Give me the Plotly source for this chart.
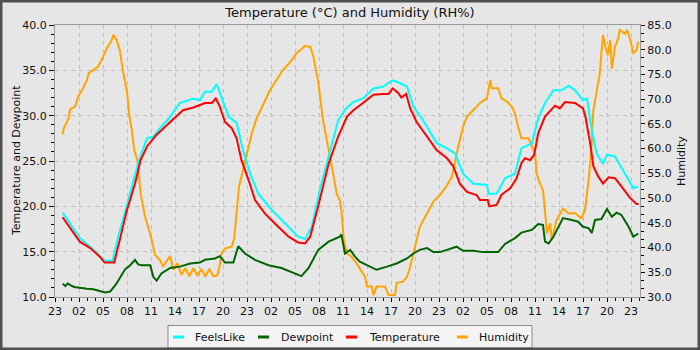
import pandas as pd
import plotly.graph_objects as go

# ---------------- data (hours after the first 23:00 tick) ----------------
start_time = "2024-06-01 23:00"

temp_hours = [0.95, 1.9, 3.1, 4.4, 5.6, 6.2, 7.4, 8.1, 9.0, 10.0, 10.7, 11.5, 12.7, 14.4, 16.0, 17.3,
              18.75, 19.6, 20.1, 20.6, 21.25, 22.1, 22.7, 23.3, 24.2, 25.0, 26.25, 27.9, 29.2, 30.4,
              31.25, 31.9, 32.9, 34.2, 35.4, 36.5, 37.3, 38.5, 39.8, 41.0, 41.7, 42.2, 42.9, 43.3,
              43.9, 44.4, 45.2, 46.5, 47.7, 49.0, 49.8, 50.6, 51.5, 52.7, 53.1, 54.1, 54.3, 55.2,
              55.8, 56.9, 57.7, 58.3, 58.75, 59.4, 59.9, 60.4, 61.25, 62.5, 63.1, 63.75, 65.0, 66.0,
              66.3, 66.9, 67.3, 67.9, 68.5, 69.2, 70.0, 70.8, 71.9, 72.7, 72.95]
temp_values = [18.8, 17.6, 16.1, 15.4, 14.45, 13.8, 13.8, 16.3, 19.6, 22.5, 25.1, 26.6, 27.9, 29.3, 30.6, 30.9,
               31.4, 31.4, 31.9, 31.0, 29.3, 28.6, 27.5, 25.1, 22.9, 20.7, 19.2, 17.75, 16.65, 16.0,
               15.9, 16.65, 20.0, 24.7, 27.7, 29.9, 30.6, 31.4, 32.3, 32.4, 32.4, 33.0, 32.5, 32.0,
               32.4, 30.8, 29.3, 27.7, 26.2, 25.3, 24.4, 22.5, 21.6, 21.25, 20.7, 20.7, 20.0, 20.15,
               21.25, 22.0, 23.1, 24.75, 25.3, 25.1, 25.7, 28.05, 29.9, 31.1, 30.8, 31.5, 31.4, 30.8,
               29.9, 26.95, 24.4, 23.3, 22.5, 23.2, 23.1, 22.2, 20.9, 20.25, 20.25]

feels_hours = [0.96, 1.9, 3.1, 4.8, 6.2, 7.2, 7.9, 9.0, 10.0, 10.8, 11.5, 12.3, 13.1, 14.4, 15.6, 17.3,
               18.1, 18.75, 19.6, 20.2, 20.8, 21.7, 22.7, 23.5, 24.4, 25.4, 27.1, 28.75, 30.4, 31.25,
               32.1, 33.1, 34.2, 35.4, 36.2, 36.5, 37.3, 38.5, 39.8, 41.0, 42.2, 43.1, 44.0, 44.8,
               46.0, 47.7, 49.0, 50.0, 51.0, 52.3, 54.0, 54.2, 55.2, 56.25, 57.5, 58.3, 59.6, 60.4,
               61.25, 62.3, 63.3, 64.2, 65.0, 66.0, 66.5, 67.1, 67.7, 68.5, 69.0, 70.0, 71.25, 72.3, 72.9]
feels_values = [19.3, 18.05, 16.5, 15.2, 14.0, 14.0, 16.65, 20.15, 23.5, 25.85, 27.5, 27.7, 28.6, 29.9, 31.4, 31.9,
                31.7, 32.65, 32.65, 33.5, 32.1, 29.9, 29.2, 26.2, 23.6, 21.4, 19.6, 18.1, 16.65, 16.4,
                17.75, 21.8, 25.5, 29.5, 30.6, 30.9, 31.5, 31.9, 33.0, 33.2, 33.9, 33.6, 33.2, 31.0,
                29.5, 27.0, 26.4, 25.85, 23.6, 22.5, 22.35, 21.4, 21.4, 23.1, 23.6, 26.4, 26.95, 29.7,
                31.4, 32.8, 32.8, 33.3, 32.8, 31.7, 31.9, 28.4, 25.85, 24.7, 25.7, 25.5, 23.6, 22.0, 22.2]

dew_hours = [0.96, 1.3, 1.6, 1.9, 2.4, 3.1, 4.0, 4.8, 5.6, 6.25, 6.9, 7.7, 8.75, 9.4, 10.0, 10.4, 10.8,
             11.9, 12.3, 12.7, 13.3, 14.4, 15.6, 16.9, 18.1, 18.75, 20.0, 20.6, 21.25, 22.3, 22.9,
             23.75, 25.0, 26.7, 28.3, 30.0, 30.8, 31.7, 32.9, 34.2, 35.6, 35.8, 36.25, 36.9, 37.5,
             38.1, 39.4, 40.2, 41.5, 42.7, 44.0, 44.8, 45.6, 46.5, 47.3, 48.1, 49.0, 50.2, 51.0,
             52.3, 53.5, 55.4, 56.25, 57.5, 58.3, 59.6, 60.4, 61.0, 61.25, 61.7, 62.3, 62.9, 63.5,
             64.6, 65.4, 66.0, 66.7, 67.1, 67.5, 68.3, 69.0, 69.6, 70.2, 70.8, 71.7, 72.3, 72.9]
dew_values = [11.45, 11.2, 11.5, 11.3, 11.1, 11.0, 10.9, 10.85, 10.7, 10.5, 10.6, 11.5, 13.05, 13.5, 14.1, 13.6, 13.5,
              13.5, 12.2, 11.8, 12.6, 13.2, 13.35, 13.7, 13.8, 14.1, 14.25, 14.5, 13.8, 13.8, 15.6,
              14.8, 14.1, 13.5, 13.2, 12.55, 12.3, 13.2, 15.2, 16.1, 16.65, 16.9, 14.8, 15.2, 14.45,
              13.9, 13.35, 13.0, 13.35, 13.7, 14.25, 14.8, 15.2, 15.4, 14.95, 14.95, 15.2, 15.55, 15.1,
              15.1, 14.95, 14.95, 15.85, 16.5, 17.1, 17.4, 18.05, 17.95, 16.1, 15.9, 16.65, 17.75, 18.7,
              18.5, 18.3, 17.75, 17.6, 17.05, 18.5, 18.6, 19.7, 18.85, 19.3, 19.05, 17.75, 16.65, 17.0]

hum_hours = [0.96, 1.1, 1.7, 1.9, 2.5, 2.9, 3.5, 4.0, 4.2, 4.8, 5.4, 5.8, 6.5, 7.1, 7.3, 7.7, 8.1, 8.5,
             9.0, 9.3, 9.6, 9.9, 10.3, 10.7, 11.25, 11.7, 12.1, 12.5, 13.1, 13.5, 14.0, 14.4, 14.8,
             15.3, 15.8, 16.3, 16.8, 17.3, 17.8, 18.3, 18.8, 19.3, 19.8, 20.3, 20.6, 20.8, 21.25,
             22.1, 22.4, 22.7, 23.0, 23.5, 24.2, 24.6, 25.2, 25.8, 26.9, 27.7, 28.5, 29.6, 30.2,
             31.25, 31.9, 32.3, 32.9, 33.5, 34.0, 34.6, 35.2, 35.6, 35.8, 36.1, 36.5, 37.1, 37.7,
             38.3, 38.75, 39.0, 39.6, 39.8, 40.2, 41.25, 41.7, 42.5, 42.7, 43.5, 44.0, 44.4, 45.0,
             45.6, 46.5, 47.3, 48.1, 49.0, 49.6, 50.0, 50.4, 51.0, 51.5, 52.3, 53.1, 54.0, 54.2,
             54.4, 54.6, 55.4, 55.8, 56.5, 57.1, 57.5, 57.9, 58.3, 59.2, 59.6, 60.0, 60.2, 60.6,
             61.0, 61.25, 61.5, 61.9, 62.1, 62.7, 63.5, 64.2, 65.0, 65.8, 66.25, 66.7, 67.0, 67.3,
             67.7, 68.1, 68.3, 68.5, 68.8, 69.1, 69.4, 69.6, 70.0, 70.4, 70.6, 71.25, 71.5, 71.9,
             72.3, 72.7, 72.9]
hum_values = [62.9, 64.1, 66.1, 68.0, 68.5, 70.5, 72.2, 73.9, 75.2, 75.9, 76.6, 77.9, 80.3, 82.0, 83.0, 82.0, 79.9, 75.6,
              71.5, 66.5, 63.8, 59.7, 57.7, 51.0, 46.2, 43.9, 41.5, 38.5, 37.5, 36.2, 37.5, 38.3, 35.5,
              36.8, 34.5, 35.8, 34.2, 35.8, 34.4, 35.6, 34.2, 35.6, 34.2, 34.4, 36.5, 38.8, 39.8,
              40.2, 41.9, 47.6, 52.3, 55.7, 60.4, 63.1, 66.1, 68.2, 71.9, 73.9, 75.9, 77.9, 79.3,
              80.75, 80.6, 78.6, 73.5, 65.8, 61.7, 56.4, 51.0, 49.5, 47.6, 41.5, 38.8, 38.1, 36.8,
              35.4, 34.1, 32.1, 32.1, 30.4, 32.1, 32.1, 30.4, 30.4, 32.8, 33.1, 34.1, 36.1, 40.2,
              44.2, 46.9, 49.3, 50.6, 52.6, 54.3, 57.7, 60.4, 64.4, 66.5, 67.8, 69.2, 70.2, 72.5,
              73.9, 72.2, 72.2, 70.2, 69.5, 68.5, 67.1, 64.4, 62.1, 62.1, 60.7, 59.0, 55.0, 53.0,
              51.6, 46.9, 42.9, 44.9, 41.5, 45.6, 47.9, 46.9, 47.0, 45.9, 47.6, 53.6, 59.0, 67.8,
              71.2, 75.2, 79.3, 83.0, 80.6, 78.9, 82.0, 76.2, 80.6, 82.3, 84.0, 83.2, 84.0, 82.0,
              79.3, 79.9, 81.6]

series_names = ["FeelsLike", "Dewpoint", "Temperature", "Humidity"]
series_colors = ["#00ffff", "#006400", "#ff0000", "#ffa500"]

title_text = "Temperature (°C) and Humidity (RH%)"
left_title = "Temperature and Dewpoint"
right_title = "Humidity"

# ---------------- build figure ----------------
base = pd.Timestamp(start_time)


def to_time(hours):
    return base + pd.to_timedelta(pd.Series(hours, dtype=float), unit="h")


FONT = "DejaVu Sans"
BG = "#e6e6e6"
TXT = "#111111"

fig = go.Figure()

# Humidity on primary (right) axis -> drawn underneath
fig.add_trace(go.Scatter(x=to_time(hum_hours), y=hum_values, mode="lines", yaxis="y",
                         line=dict(color=series_colors[3], width=2), name=series_names[3]))
fig.add_trace(go.Scatter(x=to_time(feels_hours), y=feels_values, mode="lines", yaxis="y2",
                         line=dict(color=series_colors[0], width=2), name=series_names[0]))
fig.add_trace(go.Scatter(x=to_time(temp_hours), y=temp_values, mode="lines", yaxis="y2",
                         line=dict(color=series_colors[2], width=2), name=series_names[2]))
fig.add_trace(go.Scatter(x=to_time(dew_hours), y=dew_values, mode="lines", yaxis="y2",
                         line=dict(color=series_colors[1], width=2), name=series_names[1]))

x_end = base + pd.Timedelta(hours=73.125)

L, R, T, B = 55, 60, 25, 53
PW, PH = 700 - L - R, 350 - T - B


def px(xp):
    return (xp - L) / PW


def py(yp):
    return (350 - B - yp) / PH


# ---- hand-built legend box (positions in pixels) ----
legend_box = (168, 532, 325.5, 348)
legend_line_x = [173, 258, 346, 457]
legend_text_x = [193, 279, 367, 477]
legend_y = 337

shapes = [
    dict(type="rect", xref="paper", yref="paper", x0=px(legend_box[0]), x1=px(legend_box[1]),
         y0=py(legend_box[3]), y1=py(legend_box[2]),
         line=dict(color="#8a8a8a", width=1), fillcolor="#f4f4f4", layer="above"),
]
annotations = []
for name, color, lx, tx in zip(series_names, series_colors, legend_line_x, legend_text_x):
    shapes.append(dict(type="line", xref="paper", yref="paper", x0=px(lx), x1=px(lx + 11),
                       y0=py(legend_y), y1=py(legend_y), line=dict(color=color, width=3),
                       layer="above"))
    annotations.append(dict(text=name, xref="paper", yref="paper", x=px(tx), y=py(legend_y),
                            xanchor="left", yanchor="middle", showarrow=False,
                            font=dict(family=FONT, size=11, color=TXT)))

annotations += [
    dict(text=left_title, xref="paper", yref="paper", x=px(16), y=0.5,
         xanchor="center", yanchor="middle", textangle=-90, showarrow=False,
         font=dict(family=FONT, size=11, color=TXT)),
    dict(text=right_title, xref="paper", yref="paper", x=px(681), y=0.5,
         xanchor="center", yanchor="middle", textangle=-90, showarrow=False,
         font=dict(family=FONT, size=11, color=TXT)),
]

# outer dark frame
shapes.append(dict(type="rect", xref="paper", yref="paper", x0=px(1), x1=px(699),
                   y0=py(349), y1=py(1), line=dict(color="#505050", width=3),
                   fillcolor="rgba(0,0,0,0)", layer="above"))

fig.update_layout(
    width=700, height=350,
    margin=dict(l=L, r=R, t=T, b=B, autoexpand=False),
    paper_bgcolor=BG, plot_bgcolor=BG,
    font=dict(family=FONT, size=11, color=TXT),
    title=dict(text=title_text, x=0.5, xanchor="center", y=1 - 12 / 350, yanchor="middle",
               font=dict(family=FONT, size=13, color=TXT)),
    showlegend=False,
    xaxis=dict(type="date", range=[base, x_end], tickformat="%H",
               tick0=base, dtick=3 * 3600000, ticks="outside", ticklen=4, tickcolor="black",
               showgrid=True, gridcolor="#c0c0c0", griddash="4px,4px", gridwidth=1,
               showline=True, linecolor="#999999", mirror=True, zeroline=False,
               tickfont=dict(family=FONT, size=11, color=TXT),
               minor=dict(dtick=3600000, tick0=base, ticks="outside", ticklen=3,
                          tickcolor="black", showgrid=False)),
    yaxis=dict(range=[30, 85], side="right", dtick=5, tick0=30, tickformat=".1f",
               ticks="outside", ticklen=4, tickcolor="black", showgrid=False,
               showline=True, linecolor="#999999", zeroline=False,
               tickfont=dict(family=FONT, size=11, color=TXT),
               minor=dict(dtick=5 / 3, tick0=30, ticks="outside", ticklen=3,
                          tickcolor="black", showgrid=False)),
    yaxis2=dict(range=[10, 40], side="left", overlaying="y", dtick=5, tick0=10,
                tickformat=".1f", ticks="outside", ticklen=5, tickcolor="black",
                showgrid=True, gridcolor="#c0c0c0", griddash="4px,4px", gridwidth=1,
                showline=True, linecolor="#999999", zeroline=False,
                tickfont=dict(family=FONT, size=11, color=TXT),
                minor=dict(dtick=1, tick0=10, ticks="outside", ticklen=3,
                           tickcolor="black", showgrid=False)),
    annotations=annotations,
    shapes=shapes,
    hovermode=False,
)

fig.write_html("out.html")
